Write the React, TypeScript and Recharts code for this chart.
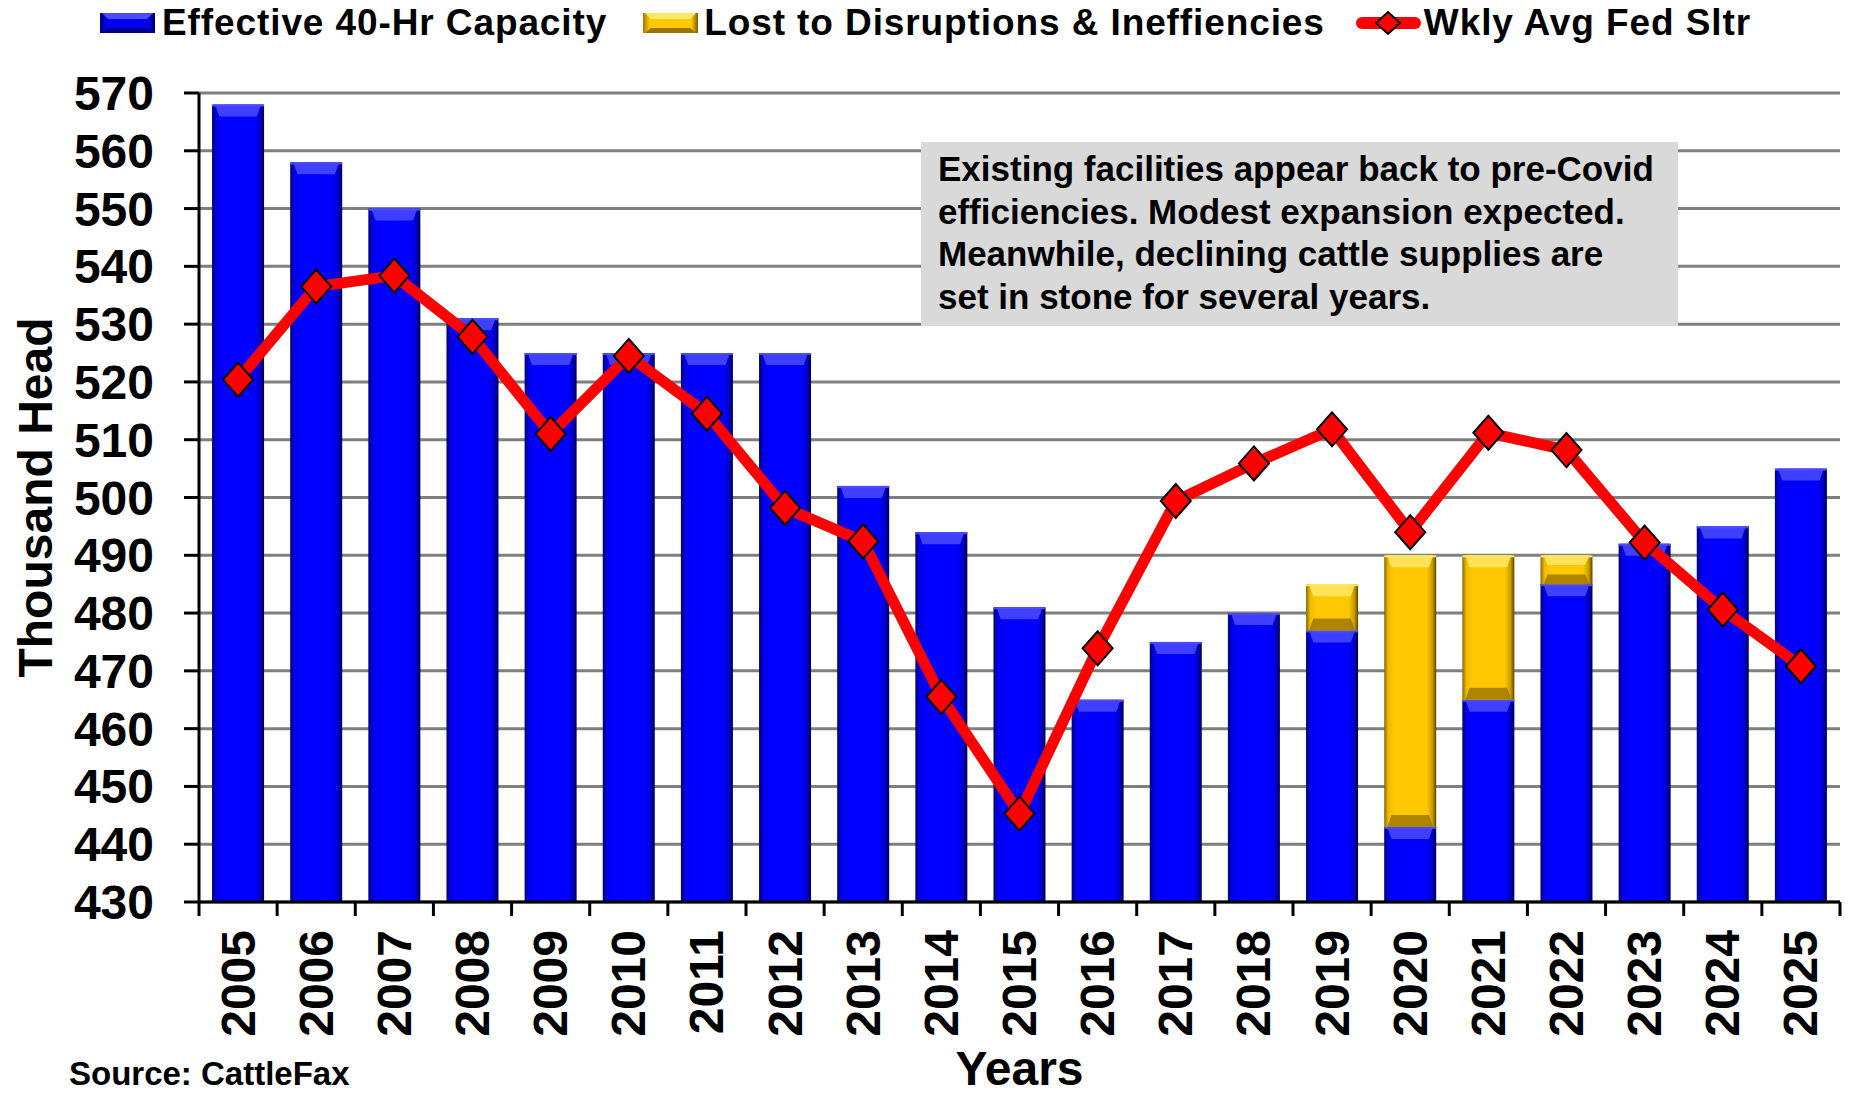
import React from 'react';
import { ComposedChart, Bar, Line, XAxis, YAxis, CartesianGrid, Legend, Label } from 'recharts';

const years = ['2005','2006','2007','2008','2009','2010','2011','2012','2013','2014','2015','2016','2017','2018','2019','2020','2021','2022','2023','2024','2025'];
const effectiveCapacity = [568,558,550,531,525,525,525,525,502,494,481,465,475,480,477,443,465,485,492,495,505];
const lostCapacity = [0,0,0,0,0,0,0,0,0,0,0,0,0,0,8,47,25,5,0,0,0];
const fedSlaughter = [520.4,536.5,538.4,527.8,511,524.5,514.5,498.2,492.4,465.5,445.3,473.9,499.4,505.9,511.8,494,511.2,508.2,492.2,480.6,470.8];
const yTicks = [430,440,450,460,470,480,490,500,510,520,530,540,550,560,570];

const seriesNames = {
  effective: 'Effective 40-Hr Capacity',
  lost: 'Lost to Disruptions & Ineffiencies',
  fed: 'Wkly Avg Fed Sltr',
};

const data = years.map((year, i) => ({
  year,
  effective: effectiveCapacity[i],
  lost: lostCapacity[i],
  fed: fedSlaughter[i],
}));

const FONT = '"Liberation Sans", Arial, Helvetica, sans-serif';

const BevelBar = (props: any) => {
  const { x, y, width, height, kind } = props;
  if (!height || height <= 0.5 || !width) return null;
  const grad = kind === 'gold' ? 'url(#goldGrad)' : 'url(#blueGrad)';
  const hi = kind === 'gold' ? '#ffe866' : '#4a4aff';
  const lo = kind === 'gold' ? '#9a7400' : '#00008a';
  const bev = Math.min(12, height / 3);
  const inset = width * 0.14;
  return (
    <g>
      <rect x={x} y={y} width={width} height={height} fill={grad} />
      <polygon
        points={`${x + 3},${y} ${x + width - 3},${y} ${x + width - inset},${y + bev} ${x + inset},${y + bev}`}
        fill={hi}
        opacity={0.85}
      />
      <rect x={x} y={y} width={width} height={2} fill={hi} />
      {kind === 'gold' && (
        <polygon
          points={`${x + inset},${y + height - bev} ${x + width - inset},${y + height - bev} ${x + width - 3},${y + height} ${x + 3},${y + height}`}
          fill={lo}
          opacity={0.8}
        />
      )}
    </g>
  );
};

const Diamond = (props: any) => {
  const { cx, cy } = props;
  if (cx == null || cy == null) return null;
  const w = 15;
  const h = 17;
  return (
    <polygon
      points={`${cx},${cy - h} ${cx + w},${cy} ${cx},${cy + h} ${cx - w},${cy}`}
      fill="#ff0000"
      stroke="#000000"
      strokeWidth={2}
    />
  );
};

const XTick = (props: any) => {
  const { x, y, payload, index, visibleTicksCount } = props;
  const half = payload && payload.offset ? payload.offset : 0;
  const axisY = y - 28;
  return (
    <g>
      <line x1={x - half} y1={axisY} x2={x - half} y2={axisY + 14} stroke="#000" strokeWidth={3} />
      {index === (visibleTicksCount ?? years.length) - 1 && (
        <line x1={x + half} y1={axisY} x2={x + half} y2={axisY + 14} stroke="#000" strokeWidth={3} />
      )}
      <text
        x={x}
        y={y}
        transform={`rotate(-90, ${x}, ${y})`}
        textAnchor="end"
        dominantBaseline="central"
        fontFamily={FONT}
        fontWeight="bold"
        fontSize={48}
        fill="#000"
      >
        {payload.value}
      </text>
    </g>
  );
};

const LegendIconBar = ({ kind }: { kind: 'blue' | 'gold' }) => (
  <svg width={55} height={20} style={{ display: 'block', flex: 'none' }}>
    <rect x={0} y={0} width={55} height={20} fill={kind === 'gold' ? 'url(#goldGradL)' : 'url(#blueGradL)'} />
    <polygon points="2,0 53,0 47,6 8,6" fill={kind === 'gold' ? '#ffe866' : '#4a4aff'} />
    <polygon points="8,15 47,15 53,20 2,20" fill={kind === 'gold' ? '#9a7400' : '#00008a'} />
  </svg>
);

const LegendIconLine = () => (
  <svg width={65} height={26} style={{ display: 'block', flex: 'none' }}>
    <line x1={6} y1={13} x2={59} y2={13} stroke="#ff0000" strokeWidth={12} strokeLinecap="round" />
    <polygon points="32,2 44,13 32,24 20,13" fill="#ff0000" stroke="#000" strokeWidth={2} />
  </svg>
);

const legendText: React.CSSProperties = { letterSpacing: '0.9px', lineHeight: '46px' };

const renderLegend = () => (
  <div
    style={{
      height: 93,
      width: 1852,
      display: 'flex',
      alignItems: 'flex-start',
      fontFamily: FONT,
      fontWeight: 'bold',
      fontSize: 37,
      color: '#000',
      boxSizing: 'border-box',
      paddingLeft: 100,
      paddingTop: 0,
      whiteSpace: 'nowrap',
    }}
  >
    <div style={{ display: 'flex', alignItems: 'center', height: 46 }}>
      <LegendIconBar kind="blue" />
      <span style={{ marginLeft: 7, ...legendText }}>{seriesNames.effective}</span>
    </div>
    <div style={{ display: 'flex', alignItems: 'center', height: 46, marginLeft: 36 }}>
      <LegendIconBar kind="gold" />
      <span style={{ marginLeft: 6, ...legendText }}>{seriesNames.lost}</span>
    </div>
    <div style={{ display: 'flex', alignItems: 'center', height: 46, marginLeft: 31 }}>
      <LegendIconLine />
      <span style={{ marginLeft: 3, ...legendText }}>{seriesNames.fed}</span>
    </div>
  </div>
);

export default function App() {
  return (
    <div style={{ position: 'fixed', left: 0, top: 0, width: 1852, height: 1096, background: '#fff', overflow: 'hidden' }}>
      <svg width={0} height={0} style={{ position: 'absolute' }}>
        <defs>
          <linearGradient id="blueGradL" x1="0" y1="0" x2="1" y2="0">
            <stop offset="0%" stopColor="#00007a" />
            <stop offset="12%" stopColor="#0000f0" />
            <stop offset="88%" stopColor="#0000f0" />
            <stop offset="100%" stopColor="#00005a" />
          </linearGradient>
          <linearGradient id="goldGradL" x1="0" y1="0" x2="1" y2="0">
            <stop offset="0%" stopColor="#a07800" />
            <stop offset="12%" stopColor="#ffc800" />
            <stop offset="88%" stopColor="#ffc800" />
            <stop offset="100%" stopColor="#7a5a00" />
          </linearGradient>
        </defs>
      </svg>
      <ComposedChart
        width={1852}
        height={1096}
        data={data}
        margin={{ top: 0, right: 12, bottom: 0, left: 0 }}
        barCategoryGap="16.7%"
      >
        <defs>
          <linearGradient id="blueGrad" x1="0" y1="0" x2="1" y2="0">
            <stop offset="0%" stopColor="#00007a" />
            <stop offset="8%" stopColor="#0000e8" />
            <stop offset="20%" stopColor="#0000ff" />
            <stop offset="82%" stopColor="#0000ff" />
            <stop offset="93%" stopColor="#0000c0" />
            <stop offset="100%" stopColor="#00004a" />
          </linearGradient>
          <linearGradient id="goldGrad" x1="0" y1="0" x2="1" y2="0">
            <stop offset="0%" stopColor="#8a6a00" />
            <stop offset="8%" stopColor="#f0bb00" />
            <stop offset="20%" stopColor="#ffc800" />
            <stop offset="82%" stopColor="#ffc800" />
            <stop offset="93%" stopColor="#c89a00" />
            <stop offset="100%" stopColor="#5a4400" />
          </linearGradient>
        </defs>
        <Legend verticalAlign="top" align="left" content={renderLegend} wrapperStyle={{ left: 0, top: 0, width: 1852 }} />
        <CartesianGrid vertical={false} stroke="#7f7f7f" strokeWidth={3} />
        <XAxis
          dataKey="year"
          height={194}
          axisLine={{ stroke: '#000', strokeWidth: 3 }}
          tickLine={false}
          tickSize={14}
          tickMargin={14}
          interval={0}
          tick={<XTick />}
        >
          <Label
            content={(p: any) => {
              const vb = p.viewBox || {};
              return (
                <text
                  x={vb.x + vb.width / 2}
                  y={1085}
                  textAnchor="middle"
                  fontFamily={FONT}
                  fontWeight="bold"
                  fontSize={48}
                  fill="#000"
                >
                  Years
                </text>
              );
            }}
          />
        </XAxis>
        <YAxis
          width={199}
          domain={[430, 570]}
          ticks={yTicks}
          allowDataOverflow
          interval={0}
          axisLine={{ stroke: '#000', strokeWidth: 3 }}
          tickLine={{ stroke: '#000', strokeWidth: 3 }}
          tickSize={15}
          tickMargin={30}
          tick={{ fontFamily: FONT, fontWeight: 'bold', fontSize: 48, fill: '#000' }}
        >
          <Label
            content={(p: any) => {
              const vb = p.viewBox || {};
              const cx = 35;
              const cy = vb.y + vb.height / 2;
              return (
                <text
                  x={cx}
                  y={cy}
                  transform={`rotate(-90, ${cx}, ${cy})`}
                  textAnchor="middle"
                  dominantBaseline="central"
                  fontFamily={FONT}
                  fontWeight="bold"
                  fontSize={48}
                  fill="#000"
                >
                  Thousand Head
                </text>
              );
            }}
          />
        </YAxis>
        <Bar
          dataKey="effective"
          name={seriesNames.effective}
          stackId="cap"
          fill="#0000ff"
          isAnimationActive={false}
          shape={(p: any) => <BevelBar {...p} kind="blue" />}
        />
        <Bar
          dataKey="lost"
          name={seriesNames.lost}
          stackId="cap"
          fill="#ffc800"
          isAnimationActive={false}
          shape={(p: any) => <BevelBar {...p} kind="gold" />}
        />
        <Line
          dataKey="fed"
          name={seriesNames.fed}
          type="linear"
          stroke="#ff0000"
          strokeWidth={11}
          strokeLinejoin="round"
          dot={(p: any) => <Diamond key={`d-${p.index}`} {...p} />}
          activeDot={false}
          isAnimationActive={false}
        />
      </ComposedChart>
      <div
        style={{
          position: 'absolute',
          left: 921,
          top: 142,
          width: 757,
          height: 184,
          background: '#d9d9d9',
          boxSizing: 'border-box',
          padding: '6px 0 0 17px',
          fontFamily: FONT,
          fontWeight: 'bold',
          fontSize: 35,
          lineHeight: '42.6px',
          color: '#000',
          whiteSpace: 'nowrap',
        }}
      >
        <div>Existing facilities appear back to pre-Covid</div>
        <div>efficiencies. Modest expansion expected.</div>
        <div>Meanwhile, declining cattle supplies are</div>
        <div>set in stone for several years.</div>
      </div>
      <div
        style={{
          position: 'absolute',
          left: 69,
          top: 1056,
          fontFamily: FONT,
          fontWeight: 'bold',
          fontSize: 33,
          lineHeight: '36px',
          color: '#000',
          whiteSpace: 'nowrap',
        }}
      >
        Source: CattleFax
      </div>
    </div>
  );
}
